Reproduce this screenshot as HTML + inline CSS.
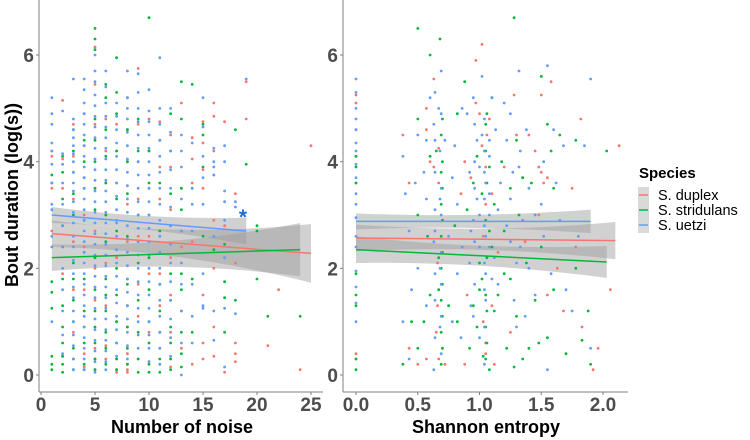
<!DOCTYPE html>
<html><head><meta charset="utf-8"><style>
html,body{margin:0;padding:0;background:#fff;}
svg{display:block;font-family:"Liberation Sans",Arial,sans-serif;}
</style></head><body>
<svg id="chart" width="750" height="440" viewBox="0 0 750 440">
<g id="bands"></g>
<g id="pts"></g>
<g id="lines"></g>
<g id="axes"></g>
<text x="243" y="224" font-size="21" font-weight="bold" fill="#1f6fd1" text-anchor="middle">*</text>
<text x="18" y="195" font-size="18" font-weight="bold" fill="#000" text-anchor="middle" transform="rotate(-90 18 195)">Bout duration (log(s))</text>
<text x="182" y="433" font-size="18" font-weight="bold" fill="#000" text-anchor="middle">Number of noise</text>
<text x="486" y="433" font-size="18" font-weight="bold" fill="#000" text-anchor="middle">Shannon entropy</text>
<g>
<text x="639" y="178" font-size="15" font-weight="bold" fill="#000">Species</text>
<rect x="638" y="187" width="11" height="46" fill="#d9d9d9"/>
<line x1="639" x2="648" y1="195" y2="195" stroke="#F8766D" stroke-width="1.5"/>
<line x1="639" x2="648" y1="210" y2="210" stroke="#00BA38" stroke-width="1.5"/>
<line x1="639" x2="648" y1="225" y2="225" stroke="#619CFF" stroke-width="1.5"/>
<text x="658" y="200" font-size="14.5" fill="#000">S. duplex</text>
<text x="658" y="215" font-size="14.5" fill="#000">S. stridulans</text>
<text x="658" y="230" font-size="14.5" fill="#000">S. uetzi</text>
</g>
</svg>
<script>
// ---- data ----
const species = ["duplex","stridulans","uetzi"];
const colors = ["#F8766D","#00BA38","#619CFF"];
const xTicksLeft = [0,5,10,15,20,25];
const xTicksRight = [0,0.5,1,1.5,2];
const xTickLabelsRight = ["0.0","0.5","1.0","1.5","2.0"];
const yTicks = [0,2,4,6];
// left panel: "x:y,y,..;" columns
const leftDuplex = "1:4.2,4.1,3.6,3.5,2.7;2:5.15,4.05,3.5,2.4,1.9,0.35;3:4.7,4.1,3.3,2.5,1.6,0.8,0.3;4:4.9,4.3,3.7,3.0,2.4,1.6,1.1,0.4,0.15;5:6.15,5.45,4.7,3.5,2.7,2.0,1.4,0.5,0.3,0.1;6:4.8,4.2,3.6,3.0,2.1,1.3,0.55,0.3;7:4.7,4.2,3.6,2.9,2.2,1.0,0.3,0.1,0.05;8:5.2,4.6,4.0,3.2,2.5,1.8,0.9,0.4,0.2,0.1,0.05;9:5.75,4.7,4.0,3.3,2.6,1.7,1.1,0.3;10:4.8,4.2,3.5,2.6,1.9,0.8,0.25;11:4.75,3.9,3.3,2.6,1.9,1.3,0.5,0.2;12:4.5,3.9,3.1,2.2,1.5,0.8,0.15;13:5.1,3.5,2.4,1.2,0.5;14:4.45,4.05,3.6,2.5,0.2;15:4.75,4.35,3.85,3.5,1.5,0.6,0.3;16:5.1,4.85,4.2,3.75,2.9,2.0,0.9,0.35;17:4.75,2.8,2.2,0.05;18:3.4,2.1,0.6,0.4,0.25;19:5.5,4.8;22:1.6;21:0.55;24:0.1;25:4.3";
const leftStrid = "1:3.75,3.6,1.75,1.55,1.25,0.35,0.2,0.1;2:4.1,3.8,3.3,2.8,1.8,1.3,0.9,0.6,0.35,0.2,0.05;3:4.6,4.2,3.8,3.4,3.0,2.1,1.8,1.4,1.0,0.5,0.3,0.1;4:4.4,4.0,3.5,2.9,2.3,1.8,1.2,0.9,0.6,0.2,0.1;5:6.5,6.3,6.1,4.8,4.4,4.0,3.5,3.1,2.2,1.6,1.2,0.9,0.6,0.3,0.1;6:5.45,5.2,4.6,4.1,3.6,3.0,2.5,1.8,1.5,1.2,0.8,0.5,0.2;7:5.95,5.3,4.9,4.2,3.3,2.7,2.0,1.5,1.0,0.6,0.3,0.1;8:4.6,4.0,3.4,2.6,1.7,1.3,0.9,0.5,0.2;9:4.8,4.2,3.0,2.1,1.4,0.8,0.3,0.05;10:6.7,4.2,3.6,3.0,2.2,1.6,1.0,0.6,0.2,0.05;11:4.4,3.6,2.7,1.7,1.2,0.8,0.3,0.05;12:4.9,4.2,3.4,2.8,1.9,1.4,0.9,0.6,0.3,0.1;13:5.5,4.8,3.5,3.1,1.9,1.6,0.8,0.4,0.15;14:5.45,3.5,1.8,0.8;15:4.7,4.5,3.9,2.6;16:2.35;17:2.45,1.75,1.45,0.8;18:4.6,1.4;19:3.95;20:2.8,2.7,1.8;21:1.1;24:1.1";
const leftUetzi = "1:5.2,4.9,4.7,4.35,4.2,3.95,3.6,3.2,3.1,2.6,2.4,1.0;2:4.95,4.15,3.95,3.6,3.2,2.8,2.4,2.0,1.6,1.2,0.75,0.4;3:5.55,4.8,4.6,4.45,4.3,4.15,4.0,3.8,3.6,3.45,3.25,3.05,2.85,2.6,2.4,2.15,1.9,1.65,1.45,1.2,1.0,0.75,0.55,0.3,0.1;4:5.55,5.35,5.1,4.9,4.7,4.5,4.3,4.1,3.9,3.7,3.5,3.3,3.1,2.9,2.7,2.5,2.3,2.1,1.9,1.7,1.5,1.3,1.1,0.9,0.7,0.5,0.3,0.1;5:6.0,5.7,5.5,5.25,5.05,4.85,4.65,4.45,4.25,4.05,3.85,3.65,3.45,3.25,3.05,2.85,2.65,2.45,2.25,2.05,1.85,1.65,1.45,1.25,1.05,0.85,0.65,0.45,0.25,0.05;6:5.7,5.4,5.1,4.85,4.65,4.45,4.25,4.05,3.85,3.65,3.45,3.25,3.05,2.85,2.65,2.45,2.25,2.05,1.85,1.65,1.45,1.25,1.05,0.85,0.65,0.45,0.25,0.1;7:5.1,4.85,4.6,4.35,4.1,3.85,3.6,3.35,3.1,2.85,2.6,2.35,2.1,1.85,1.6,1.35,1.1,0.85,0.6,0.35;8:5.7,5.2,5.0,4.8,4.55,4.3,4.05,3.8,3.55,3.3,3.05,2.8,2.55,2.3,2.05,1.8,1.55,1.3,1.05,0.8,0.55,0.3;9:5.65,5.3,5.0,4.75,4.5,4.25,4.0,3.75,3.5,3.25,3.0,2.75,2.5,2.25,2.0,1.75,1.5,1.25,1.0,0.75,0.5;10:5.35,4.95,4.75,4.5,4.25,4.0,3.75,3.5,3.25,3.0,2.75,2.5,2.25,2.0,1.75,1.5,1.25,1.0,0.75,0.5,0.25;11:5.95,5.0,4.7,4.4,4.1,3.8,3.5,3.2,2.9,2.6,2.3,2.0,1.7,1.4,1.1,0.8,0.5,0.2;12:5.0,4.55,4.2,3.85,3.5,3.15,2.8,2.45,2.1,1.75,1.4,1.05,0.7,0.35;13:4.5,4.2,3.9,3.3,2.7,2.1,1.7,1.2,0.6,0.0;14:4.35,3.5,3.2,2.7,1.7,1.1,0.6;15:5.2,4.65,4.1,3.7,3.2,1.9,1.3,1.25;16:4.25,4.0,3.9,3.75,2.6,1.2,0.65;17:4.3,4.0,3.45,3.25,2.9,2.2,1.25,0.15;18:3.25,3.15,1.15;19:5.55";
// right panel: "x,y;x,y" pairs
const rightDuplex = "0,5.25,0,5.1,0,4.6,0,4.1,0,3.6,0,0.4,0,0.3,0.38,4.5,0.43,3.6,0.43,0.5,0.5,0.2,0.57,5.0,0.57,4.6,0.57,0.3,0.63,5.55,0.63,3.9,0.65,0.8,0.67,4.25,0.67,3.6,0.67,0.3,0.7,2.9,0.7,0.5,0.72,0.2,0.85,3.4,0.88,4.0,0.88,0.2,0.97,5.9,0.97,5.1,1.0,4.9,1.02,6.2,1.02,4.3,1.05,3.9,1.05,3.2,1.05,0.6,1.05,0.4,1.08,4.8,1.1,3.4,1.1,1.3,1.15,2.3,1.2,3.9,1.28,5.25,1.3,4.5,1.35,3.7,1.4,4.5,1.45,4.2,1.48,3.9,1.5,5.25,1.5,3.8,1.55,3.7,1.55,1.5,1.58,5.5,1.63,2.0,1.68,1.2,1.75,3.5,1.78,2.4,1.82,4.8,1.83,0.9,1.92,0.1,1.96,0.5,2.06,1.6,2.13,4.3,0.66,1.3,0.66,2.1,1.03,1.0,1.03,2.6,1.06,4.5,0.93,3.7,1.25,0.8,1.52,3.6,1.48,3.0,0.6,4.0,0.9,1.5,1.12,0.2,1.37,2.5";
const rightStrid = "0,4.1,0,3.9,0,3.6,0,1.9,0,1.5,0,1.3,0,0.3,0,0.1,0.38,0.2,0.45,1.0,0.5,6.5,0.5,4.8,0.5,3.0,0.5,0.5,0.55,1.0,0.6,6.0,0.6,4.1,0.6,1.5,0.65,4.2,0.67,2.2,0.67,1.6,0.68,6.3,0.69,4.5,0.69,3.8,0.69,3.2,0.69,2.6,0.69,2.0,0.69,1.4,0.69,0.8,0.69,0.2,0.8,2.8,0.82,4.9,0.82,1.0,0.88,5.5,0.9,3.1,0.95,3.6,0.95,1.3,0.98,4.1,1.0,2.1,1.02,3.4,1.02,1.8,1.05,4.7,1.05,4.2,1.05,2.9,1.05,1.5,1.05,0.9,1.05,0.3,1.08,3.9,1.08,0.1,1.1,5.2,1.1,2.4,1.12,1.2,1.18,4.0,1.2,2.7,1.22,0.5,1.25,3.5,1.25,1.8,1.28,6.7,1.3,4.4,1.3,1.1,1.35,3.7,1.35,0.3,1.38,2.1,1.42,3.6,1.45,1.4,1.5,5.6,1.5,2.4,1.55,4.7,1.55,0.7,1.6,3.5,1.6,1.6,1.65,4.5,1.7,0.4,1.78,4.4,1.78,2.0,1.83,0.65,1.88,1.2,1.9,0.2,2.03,4.2,0.7,4.8,0.7,4.0,0.7,3.5,0.7,2.9,0.7,2.3,0.7,1.7,0.7,1.1,0.7,0.5,1.06,4.9,1.06,3.6,1.06,2.2,1.06,1.2,1.06,0.6,1.03,0.35,1.08,2.7,1.0,1.6,0.98,0.9,1.12,3.2,1.15,1.5,1.32,3.0,1.4,0.5,1.28,0.15,0.75,1.3,0.58,2.6,1.2,1.9,1.48,0.6,1.58,4.2,0.92,0.5";
const rightUetzi = "0,5.55,0,5.3,0,5.0,0,4.8,0,4.6,0,4.35,0,4.2,0,3.95,0,3.7,0,3.4,0,3.2,0,2.95,0,2.6,0,2.4,0,1.95,0,1.65,0,1.35,0,1.0,0.38,4.1,0.38,1.0,0.4,3.4,0.43,2.7,0.43,0.3,0.5,4.5,0.5,2.0,0.55,3.8,0.57,4.4,0.57,3.3,0.57,1.3,0.6,5.2,0.63,4.7,0.63,2.5,0.63,0.1,0.67,5.0,0.68,4.2,0.69,5.7,0.69,4.9,0.69,3.5,0.69,3.0,0.69,2.3,0.69,1.7,0.69,1.1,0.69,0.4,0.72,4.4,0.75,2.6,0.8,4.3,0.82,3.2,0.82,1.9,0.85,0.7,0.9,4.9,0.92,3.8,0.92,2.1,0.95,5.2,0.95,2.9,0.95,1.1,0.98,4.4,0.98,3.3,1.0,2.4,1.0,0.7,1.02,4.5,1.02,5.6,1.05,3.6,1.05,2.6,1.05,1.9,1.05,1.4,1.08,4.1,1.08,3.0,1.1,5.2,1.12,2.2,1.15,3.1,1.15,1.7,1.2,5.1,1.22,4.4,1.25,4.9,1.25,3.3,1.25,2.5,1.28,1.4,1.3,0.9,1.32,5.7,1.32,3.9,1.35,2.9,1.38,4.6,1.4,3.5,1.4,2.0,1.45,1.5,1.5,3.2,1.52,2.6,1.55,5.8,1.55,0.1,1.58,1.9,1.6,4.6,1.62,3.6,1.65,2.9,1.68,4.3,1.7,1.6,1.75,1.2,1.8,2.6,1.85,4.3,1.9,0.5,1.9,5.55,0.64,5.3,0.64,4.4,0.64,3.8,0.64,3.1,0.64,2.7,0.64,1.9,0.64,1.4,0.64,0.7,0.68,3.3,0.68,2.0,0.68,0.9,0.96,4.7,0.96,4.0,0.96,3.5,0.96,2.5,0.96,1.7,1.04,4.8,1.04,4.2,1.04,3.8,1.04,3.3,1.04,2.8,1.04,2.1,1.04,1.6,1.04,0.9,1.04,0.2,1.08,4.4,1.08,3.4,1.08,2.4,1.1,1.8,1.0,3.9,1.0,3.0,0.93,2.7,0.93,1.3,1.13,4.6,1.17,3.6,1.22,2.8,1.27,3.8,1.33,4.2,1.33,2.4,1.37,1.1,1.45,3.0,1.52,4.0,1.3,2.1,0.48,3.6,0.45,1.6,0.78,3.7,0.78,1.0,0.86,5.0,0.86,2.4";
// regression fits [x0, y0, x1, y1, halfwidth0, halfwidthMid, halfwidth1]
const fitLeftDuplex = [1,2.65,25,2.28,0.25,0.12,0.55];
const fitLeftStrid = [1,2.2,24,2.35,0.25,0.12,0.5];
const fitLeftUetzi = [1,3.0,19,2.7,0.15,0.06,0.25];
const fitRightDuplex = [0,2.57,2.1,2.52,0.25,0.1,0.35];
const fitRightStrid = [0,2.35,2.03,2.12,0.25,0.1,0.3];
const fitRightUetzi = [0,2.88,1.9,2.88,0.15,0.06,0.22];

// ---- scales ----
const xL = v => 41 + v*10.8;
const xR = v => 356 + v*123.5;
const yS = v => 375 - v*53.33;
const NS = "http://www.w3.org/2000/svg";
function mk(tag, attrs, parent){const e=document.createElementNS(NS,tag);for(const k in attrs)e.setAttribute(k,attrs[k]);parent.appendChild(e);return e;}
const pts=document.getElementById('pts'), bands=document.getElementById('bands'), lines=document.getElementById('lines'), axes=document.getElementById('axes');

function parseCols(s){const out=[];s.split(';').forEach(c=>{const [x,ys]=c.split(':');ys.split(',').forEach(y=>out.push([+x,+y]));});return out;}
function parsePairs(s){const a=s.split(',').map(Number);const out=[];for(let i=0;i<a.length;i+=2)out.push([a[i],a[i+1]]);return out;}

const left=[parseCols(leftDuplex),parseCols(leftStrid),parseCols(leftUetzi)];
const right=[parsePairs(rightDuplex),parsePairs(rightStrid),parsePairs(rightUetzi)];
const fitsL=[fitLeftDuplex,fitLeftStrid,fitLeftUetzi];
const fitsR=[fitRightDuplex,fitRightStrid,fitRightUetzi];

function band(f,xs){
  const [x0,y0,x1,y1,h0,hm,h1]=f;const n=20;const up=[],dn=[];
  for(let i=0;i<=n;i++){const t=i/n;const x=x0+(x1-x0)*t;const y=y0+(y1-y0)*t;
    const h=(1-t)*(1-t)*h0+2*t*(1-t)*hm+t*t*h1;up.push(xs(x)+','+yS(y+h));dn.unshift(xs(x)+','+yS(y-h));}
  const p=mk('polygon',{points:up.concat(dn).join(' '),fill:'#999','fill-opacity':0.45},bands);
  
  
}
function fitLine(f,xs,c){
  const l=mk('line',{x1:xs(f[0]),y1:yS(f[1]),x2:xs(f[2]),y2:yS(f[3]),stroke:c,'stroke-width':1.5},lines);
  
  
}
[[left,fitsL,xL],[right,fitsR,xR]].forEach(([data,fits,xs])=>{
  data.forEach((arr,si)=>arr.forEach(([x,y])=>{
    const c=mk('circle',{cx:xs(x).toFixed(1),cy:yS(y).toFixed(1),r:1.4,fill:colors[si]},pts);
    
    
  }));
  fits.forEach(f=>band(f,xs));
  fits.forEach((f,si)=>fitLine(f,xs,colors[si]));
});

// axes
function axis(x0,x1,ticks,labels,xs){
  const a=mk('line',{x1:x0,y1:0,x2:x0,y2:392,stroke:'#7f7f7f','stroke-width':1},axes);
  
  
  const b=mk('line',{x1:x0,y1:392,x2:x1,y2:392,stroke:'#7f7f7f','stroke-width':1},axes);
  
  
  yTicks.forEach(v=>{
    mk('line',{x1:x0-3,x2:x0,y1:yS(v),y2:yS(v),stroke:'#7f7f7f'},axes);
    const t=mk('text',{x:x0-5,y:yS(v)+7,'font-size':19,'font-weight':'bold',fill:'#4d4d4d','text-anchor':'end'},axes);
    t.textContent=v;
    
    
  });
  ticks.forEach((v,i)=>{
    mk('line',{x1:xs(v),x2:xs(v),y1:392,y2:395,stroke:'#7f7f7f'},axes);
    const t=mk('text',{x:xs(v),y:411,'font-size':19,'font-weight':'bold',fill:'#4d4d4d','text-anchor':'middle'},axes);
    t.textContent=labels[i];
    
    
  });
}
axis(39,323,xTicksLeft,xTicksLeft.map(String),xL);
axis(343,628,xTicksRight,xTickLabelsRight,xR);
</script>
</body></html>
